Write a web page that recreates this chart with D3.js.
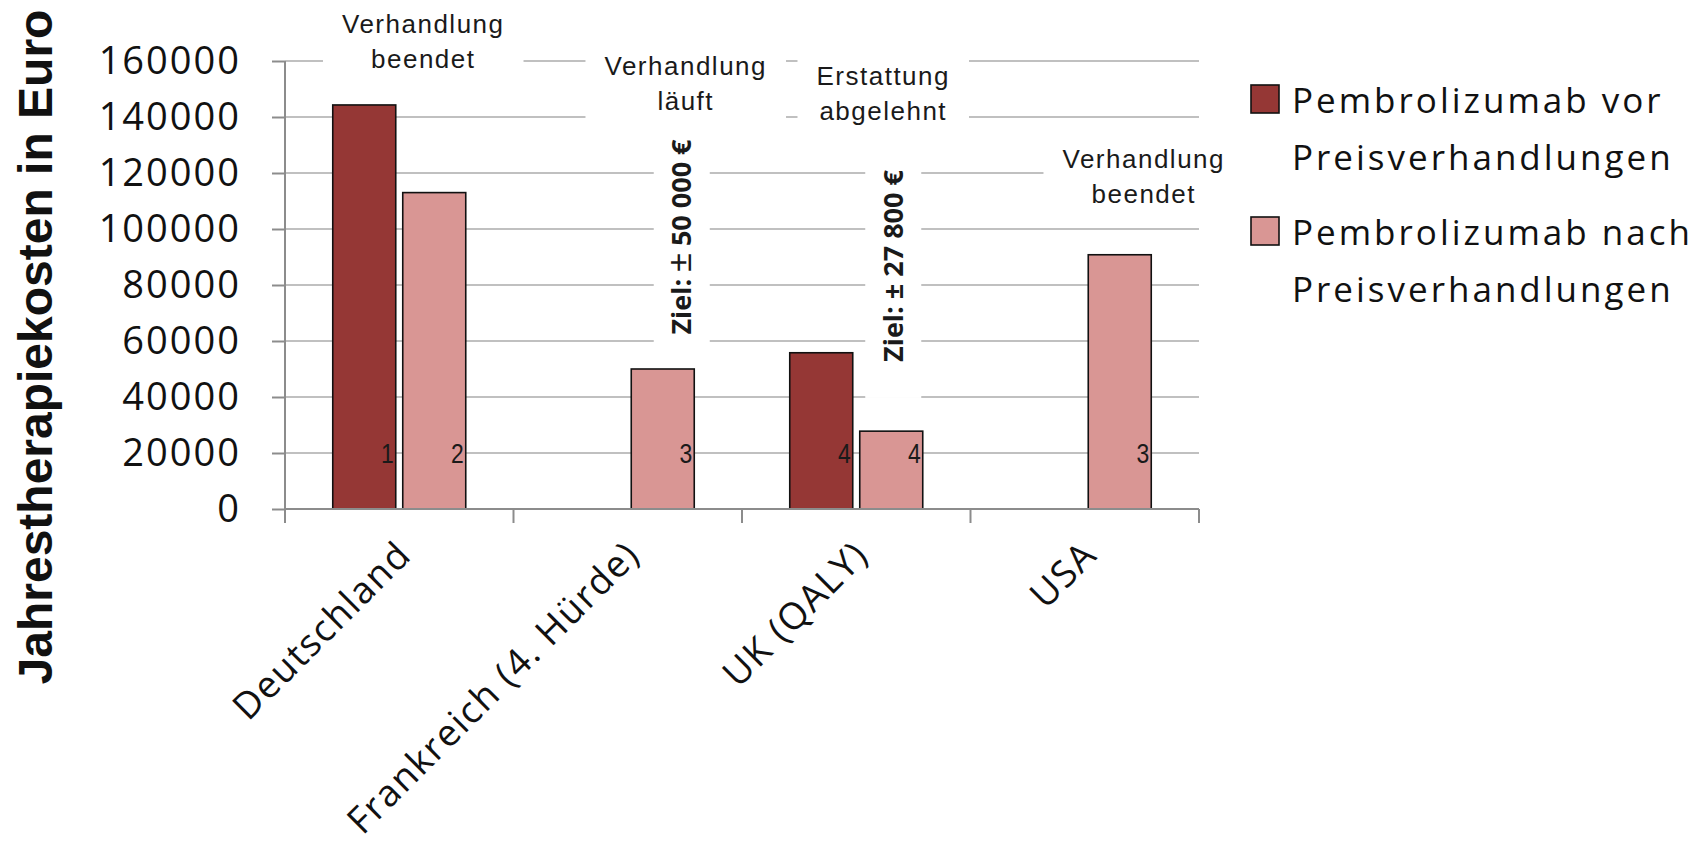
<!DOCTYPE html>
<html>
<head>
<meta charset="utf-8">
<script src="https://cdn.jsdelivr.net/npm/d3@7"></script>
<style>
  html, body { margin: 0; padding: 0; background: #ffffff; }
  svg { display: block; }
</style>
</head>
<body>
<svg id="chart" width="1705" height="843"></svg>
<script>
// ---- data ----
const categories = ["Deutschland", "Frankreich (4. Hürde)", "UK (QALY)", "USA"];
const seriesKeys = ["vor", "nach"];
const vorValues = [144300, null, 55800, null];
const nachValues = [113000, 50000, 27800, 90800];
const vorRefs = ["1", null, "4", null];
const nachRefs = ["2", "3", "4", "3"];
const statusNotes = [
  ["Verhandlung", "beendet"],
  ["Verhandlung", "läuft"],
  ["Erstattung", "abgelehnt"],
  ["Verhandlung", "beendet"]
];
const targetNotes = [null, "Ziel: ± 50 000 €", "Ziel: ± 27 800 €", null];
const legendLabels = [
  ["Pembrolizumab vor", "Preisverhandlungen"],
  ["Pembrolizumab nach", "Preisverhandlungen"]
];
const yTicks = [0, 20000, 40000, 60000, 80000, 100000, 120000, 140000, 160000];
const yTitle = "Jahrestherapiekosten in Euro";

// ---- layout ----
const plot = { left: 285, right: 1199, top: 61, bottom: 509 };
const colors = { vor: "#953735", nach: "#d99694" };
const grid = "#c0c0c0", axisGray = "#8c8c8c";
const sansUI = "'Open Sans', 'Noto Sans', sans-serif";
const sansArial = "'Liberation Sans', Arial, sans-serif";

// placement of the status / target notes relative to each category band
const statusLayout = [
  { dx: 24, y: 33 }, { dx: 58, y: 75 }, { dx: 27, y: 85 }, { dx: 59, y: 168 }
];
const targetLayout = [
  null,
  { dx: 54, cy: 237, thinSign: true },
  { dx: 37, cy: 266, thinSign: false },
  null
];

const svg = d3.select("#chart");

const x = d3.scaleBand().domain(categories).range([plot.left, plot.right]).paddingInner(0).paddingOuter(0);
const y = d3.scaleLinear().domain([0, 160000]).range([plot.bottom, plot.top]);

const barW = 63, barGap = 7;
const groupOffset = (x.bandwidth() - (2 * barW + barGap)) / 2;
const sub = d3.scaleOrdinal().domain(seriesKeys).range([groupOffset, groupOffset + barW + barGap]);

// ---- gridlines ----
svg.append("g").selectAll("line").data(yTicks.filter(d => d > 0)).join("line")
  .attr("x1", plot.left).attr("x2", plot.right)
  .attr("y1", d => y(d)).attr("y2", d => y(d))
  .attr("stroke", grid).attr("stroke-width", 2);

// ---- white backgrounds of the notes (they interrupt the gridlines) ----
const noteBg = svg.append("g");
const noteLayer = svg.append("g");

// status notes above the bars
statusNotes.forEach((lines, i) => {
  const L = statusLayout[i];
  const cx = x(categories[i]) + x.bandwidth() / 2 + L.dx;
  const t = noteLayer.append("text")
    .attr("text-anchor", "middle")
    .attr("font-family", sansArial)
    .attr("font-size", 26)
    .attr("letter-spacing", 1.5)
    .attr("fill", "#1a1a1a");
  lines.forEach((ln, k) => {
    t.append("tspan").attr("x", cx).attr("y", L.y + k * 35).text(ln);
  });
  const bb = t.node().getBBox();
  noteBg.append("rect")
    .attr("x", bb.x - 19).attr("y", bb.y - 4)
    .attr("width", bb.width + 38).attr("height", bb.height + 8)
    .attr("fill", "#ffffff");
});

// vertical target notes
targetNotes.forEach((txt, i) => {
  if (!txt) return;
  const L = targetLayout[i];
  const cx = x(categories[i]) + x.bandwidth() / 2 + L.dx;
  const t = noteLayer.append("text")
    .attr("transform", `translate(${cx},${L.cy}) rotate(-90)`)
    .attr("text-anchor", "middle")
    .attr("dy", "0.36em")
    .attr("font-family", sansUI)
    .attr("font-weight", 700)
    .attr("font-size", 27)
    .attr("fill", "#1a1a1a");
  const parts = txt.split("±");
  t.append("tspan").text(parts[0]);
  const sign = t.append("tspan").text("±");
  if (L.thinSign) {
    sign.attr("font-weight", 400).attr("font-size", 34).attr("font-family", sansArial);
  }
  t.append("tspan").text(parts[1]);
  const len = t.node().getComputedTextLength();
  noteBg.append("rect")
    .attr("x", cx - 28).attr("y", L.cy - len / 2 - 10)
    .attr("width", 56).attr("height", len + 46)
    .attr("fill", "#ffffff");
});

// ---- bars ----
const rows = categories.map((c, i) => ({
  cat: c,
  items: [
    { key: "vor", value: vorValues[i], ref: vorRefs[i] },
    { key: "nach", value: nachValues[i], ref: nachRefs[i] }
  ].filter(d => d.value != null)
}));

const groups = svg.append("g").selectAll("g").data(rows).join("g")
  .attr("transform", d => `translate(${x(d.cat)},0)`);

groups.selectAll("rect").data(d => d.items).join("rect")
  .attr("x", d => sub(d.key))
  .attr("y", d => y(d.value))
  .attr("width", barW)
  .attr("height", d => y(0) - y(d.value))
  .attr("fill", d => colors[d.key])
  .attr("stroke", "#111111")
  .attr("stroke-width", 1.6);

// footnote numbers inside the bars
groups.selectAll("text.ref").data(d => d.items).join("text")
  .attr("class", "ref")
  .attr("transform", d => `translate(${sub(d.key) + barW - 2},${y(20000) + 10}) scale(0.82,1)`)
  .attr("text-anchor", "end")
  .attr("font-family", sansArial)
  .attr("font-size", 28)
  .attr("fill", "#1a1a1a")
  .text(d => d.ref);

// notes sit above the bars and gridlines
noteLayer.raise();

// ---- y axis ----
const yAxis = svg.append("g")
  .attr("transform", `translate(${plot.left},0)`)
  .call(d3.axisLeft(y).tickValues(yTicks).tickSize(13).tickSizeOuter(0).tickPadding(33).tickFormat(d3.format("d")));
yAxis.select(".domain").remove();
yAxis.selectAll(".tick line").attr("stroke", axisGray).attr("stroke-width", 2);
yAxis.selectAll(".tick text")
  .attr("font-family", sansUI).attr("font-size", 38).attr("letter-spacing", 2)
  .attr("fill", "#111111").attr("dx", 2);
svg.append("line")
  .attr("x1", plot.left).attr("x2", plot.left)
  .attr("y1", plot.top).attr("y2", plot.bottom + 14)
  .attr("stroke", axisGray).attr("stroke-width", 2);

// ---- x axis ----
svg.append("line")
  .attr("x1", plot.left).attr("x2", plot.right)
  .attr("y1", plot.bottom).attr("y2", plot.bottom)
  .attr("stroke", axisGray).attr("stroke-width", 2);
svg.append("g").selectAll("line").data(categories).join("line")
  .attr("x1", d => x(d) + x.bandwidth()).attr("x2", d => x(d) + x.bandwidth())
  .attr("y1", plot.bottom).attr("y2", plot.bottom + 14)
  .attr("stroke", axisGray).attr("stroke-width", 2);

const xAxis = svg.append("g")
  .attr("transform", `translate(0,${plot.bottom})`)
  .call(d3.axisBottom(x).tickSize(0).tickPadding(0));
xAxis.select(".domain").remove();
xAxis.selectAll(".tick text")
  .attr("font-family", sansUI).attr("font-size", 37).attr("letter-spacing", 1.5)
  .attr("fill", "#111111")
  .attr("text-anchor", "end")
  .attr("dy", null).attr("y", 0)
  .attr("transform", "translate(14,48) rotate(-45)");

// ---- y title ----
svg.append("text")
  .attr("transform", "translate(52,347) rotate(-90)")
  .attr("text-anchor", "middle")
  .attr("font-family", sansArial)
  .attr("font-weight", 700)
  .attr("font-size", 48)
  .attr("fill", "#111111")
  .text(yTitle);

// ---- legend ----
const legend = svg.append("g").attr("transform", "translate(1251,85)");
legendLabels.forEach((lines, i) => {
  const g = legend.append("g").attr("transform", `translate(0,${i * 132})`);
  g.append("rect").attr("x", 0).attr("y", 0).attr("width", 28).attr("height", 28)
    .attr("fill", colors[seriesKeys[i]]).attr("stroke", "#111111").attr("stroke-width", 1.6);
  const t = g.append("text")
    .attr("font-family", sansUI).attr("font-size", 35).attr("letter-spacing", 3)
    .attr("fill", "#111111");
  lines.forEach((ln, k) => {
    t.append("tspan").attr("x", 41).attr("y", 28 + k * 57).text(ln);
  });
});
</script>
</body>
</html>
